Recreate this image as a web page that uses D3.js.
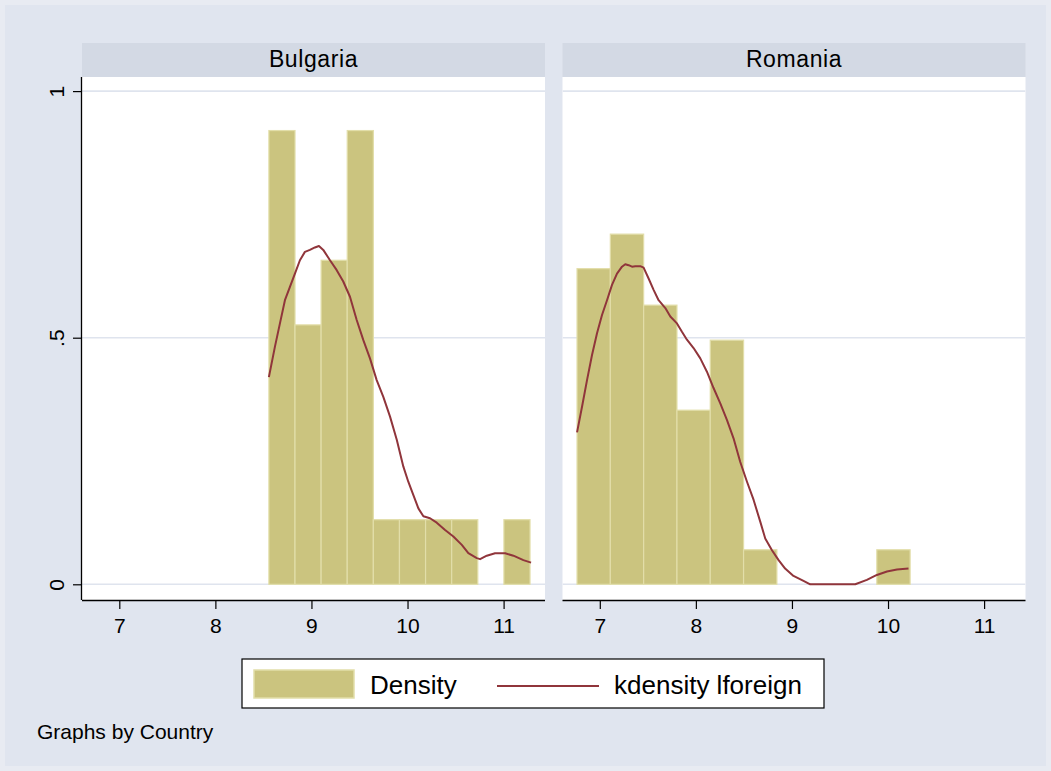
<!DOCTYPE html>
<html>
<head>
<meta charset="utf-8">
<script src="https://cdn.jsdelivr.net/npm/d3@7"></script>
<style>
  html, body { margin: 0; padding: 0; background: #e0e5ef; }
  svg { display: block; }
  text { font-family: "Liberation Sans", Arial, Helvetica, sans-serif; fill: #000; }
</style>
</head>
<body>
<svg id="chart" width="1051" height="771"></svg>
<script>
// Histogram of lforeign by country, with kernel density overlay
const countries = ["Bulgaria", "Romania"];

// Histogram bins: first bin start, bin width, density per bin
const bulgariaBinStart = 8.557;
const bulgariaBinWidth = 0.2718;
const bulgariaDensity = [0.920, 0.526, 0.657, 0.920, 0.131, 0.131, 0.131, 0.131, 0, 0.131];

const romaniaBinStart = 6.763;
const romaniaBinWidth = 0.3467;
const romaniaDensity = [0.640, 0.710, 0.566, 0.353, 0.495, 0.070, 0, 0, 0, 0.070];

// Kernel density estimates [x, density]
const bulgariaKdensity = [
  [8.557, 0.420], [8.620, 0.482], [8.672, 0.529], [8.724, 0.576], [8.776, 0.603],
  [8.828, 0.630], [8.880, 0.657], [8.932, 0.674], [8.984, 0.678], [9.036, 0.683],
  [9.078, 0.686], [9.123, 0.678], [9.193, 0.657], [9.263, 0.637], [9.331, 0.614],
  [9.401, 0.583], [9.471, 0.536], [9.540, 0.495], [9.609, 0.458], [9.679, 0.414],
  [9.748, 0.380], [9.818, 0.340], [9.888, 0.293], [9.956, 0.239], [10.008, 0.208],
  [10.061, 0.181], [10.113, 0.154], [10.165, 0.138], [10.234, 0.134], [10.304, 0.125],
  [10.391, 0.110], [10.477, 0.097], [10.565, 0.080], [10.633, 0.063], [10.721, 0.053],
  [10.755, 0.051], [10.825, 0.058], [10.911, 0.063], [11.016, 0.063], [11.102, 0.058],
  [11.206, 0.049], [11.286, 0.044]
];
const romaniaKdensity = [
  [6.763, 0.308], [6.815, 0.360], [6.867, 0.414], [6.919, 0.465], [6.971, 0.509],
  [7.023, 0.546], [7.075, 0.576], [7.127, 0.607], [7.179, 0.630], [7.231, 0.644],
  [7.265, 0.649], [7.300, 0.647], [7.335, 0.644], [7.369, 0.645], [7.421, 0.645],
  [7.456, 0.642], [7.508, 0.620], [7.560, 0.597], [7.612, 0.576], [7.682, 0.560],
  [7.734, 0.543], [7.803, 0.529], [7.855, 0.512], [7.907, 0.496], [7.976, 0.479],
  [8.046, 0.458], [8.115, 0.431], [8.184, 0.398], [8.254, 0.367], [8.324, 0.333],
  [8.392, 0.296], [8.462, 0.248], [8.532, 0.208], [8.601, 0.171], [8.670, 0.127],
  [8.722, 0.093], [8.792, 0.069], [8.861, 0.049], [8.929, 0.032], [9.016, 0.017],
  [9.120, 0.007], [9.190, 0.000], [9.659, 0.000], [9.780, 0.009], [9.884, 0.019],
  [9.989, 0.026], [10.093, 0.030], [10.213, 0.032]
];

const xTicks = [7, 8, 9, 10, 11];
const yTicks = [0, 0.5, 1];
const yTickLabels = ["0", ".5", "1"];
const legendLabels = ["Density", "kdensity lforeign"];
const note = "Graphs by Country";

const panels = [
  { name: countries[0], start: bulgariaBinStart, width: bulgariaBinWidth, density: bulgariaDensity, kd: bulgariaKdensity },
  { name: countries[1], start: romaniaBinStart, width: romaniaBinWidth, density: romaniaDensity, kd: romaniaKdensity }
];

const colors = {
  bg: "#e0e5ef",
  strip: "#d3d9e4",
  grid: "#dfe4ee",
  bar: "#cbc47f",
  barEdge: "#e2dea9",
  line: "#90353b"
};

const svg = d3.select("#chart");
svg.append("rect").attr("width", 1051).attr("height", 771).attr("fill", "#e8ebf2");
svg.append("rect").attr("x", 5).attr("y", 5).attr("width", 1041).attr("height", 761).attr("fill", colors.bg);

const panelLefts = [82, 562.5];
const panelW = 463;
const stripTop = 43, stripBottom = 77, plotBottom = 600;

panels.forEach((p, i) => {
  const left = panelLefts[i];
  const g = svg.append("g");

  const x = d3.scaleLinear().domain([7, 11]).range([left + 37.3, left + 421.6]);
  const y = d3.scaleLinear().domain([0, 1]).range([584.3, 91.1]);

  // strip header
  g.append("rect").attr("x", left).attr("y", stripTop).attr("width", panelW)
    .attr("height", stripBottom - stripTop).attr("fill", colors.strip);
  g.append("text").attr("x", left + panelW / 2).attr("y", 67)
    .attr("text-anchor", "middle").attr("font-size", 23).attr("letter-spacing", 0.6)
    .text(p.name);

  // plot area
  g.append("rect").attr("x", left).attr("y", stripBottom).attr("width", panelW)
    .attr("height", plotBottom - stripBottom).attr("fill", "#fff");

  const clipId = "clip" + i;
  svg.append("clipPath").attr("id", clipId).append("rect")
    .attr("x", left).attr("y", stripBottom).attr("width", panelW).attr("height", plotBottom - stripBottom);

  const plot = g.append("g").attr("clip-path", `url(#${clipId})`);

  // gridlines
  plot.selectAll("line.grid").data(yTicks).join("line")
    .attr("x1", left).attr("x2", left + panelW)
    .attr("y1", d => y(d)).attr("y2", d => y(d))
    .attr("stroke", colors.grid).attr("stroke-width", 1.6);

  // histogram bars
  const bins = p.density.map((d, k) => ({ x0: p.start + k * p.width, x1: p.start + (k + 1) * p.width, d }))
    .filter(b => b.d > 0);
  plot.selectAll("rect.bar").data(bins).join("rect")
    .attr("x", b => x(b.x0)).attr("width", b => x(b.x1) - x(b.x0))
    .attr("y", b => y(b.d)).attr("height", b => y(0) - y(b.d))
    .attr("fill", colors.bar).attr("stroke", colors.barEdge).attr("stroke-width", 1.2);

  // kernel density
  plot.append("path").datum(p.kd)
    .attr("d", d3.line().x(d => x(d[0])).y(d => y(d[1])))
    .attr("fill", "none").attr("stroke", colors.line).attr("stroke-width", 2)
    .attr("stroke-linejoin", "round");

  // x axis
  const xAxis = d3.axisBottom(x).tickValues(xTicks).tickSize(9).tickPadding(4).tickFormat(d3.format("d"));
  const xg = g.append("g").attr("transform", `translate(0,${plotBottom})`).call(xAxis);
  xg.select(".domain").attr("d", `M${left},0.5H${left + panelW}`).attr("stroke", "#000").attr("stroke-width", 1.3);
  xg.selectAll(".tick line").attr("stroke", "#000").attr("stroke-width", 1.2);
  xg.selectAll(".tick text").attr("font-size", 21).attr("font-family", "Liberation Sans, Arial, sans-serif")
    .attr("fill", "#000").attr("dy", "0.95em");

  // y axis (left panel only)
  if (i === 0) {
    const yAxis = d3.axisLeft(y).tickValues(yTicks).tickSize(9).tickFormat((d, k) => yTickLabels[k]);
    const yg = g.append("g").attr("transform", `translate(${left},0)`).call(yAxis);
    yg.select(".domain").attr("d", `M-0.5,${stripBottom}V${plotBottom}`).attr("stroke", "#000").attr("stroke-width", 1.3);
    yg.selectAll(".tick line").attr("stroke", "#000").attr("stroke-width", 1.2);
    yg.selectAll(".tick text").attr("font-size", 21).attr("font-family", "Liberation Sans, Arial, sans-serif")
      .attr("fill", "#000").attr("text-anchor", "middle").attr("dy", 0)
      .attr("transform", "translate(-18,0) rotate(-90)").attr("x", 0).attr("y", 0);
  }
});

// legend
const lg = svg.append("g");
lg.append("rect").attr("x", 242).attr("y", 659).attr("width", 582).attr("height", 49)
  .attr("fill", "#fff").attr("stroke", "#000").attr("stroke-width", 1.2);
lg.append("rect").attr("x", 254).attr("y", 670).attr("width", 100).attr("height", 28)
  .attr("fill", colors.bar).attr("stroke", colors.barEdge).attr("stroke-width", 1.5);
lg.append("text").attr("x", 370).attr("y", 694).attr("font-size", 26).text(legendLabels[0]);
lg.append("line").attr("x1", 497).attr("x2", 599).attr("y1", 686).attr("y2", 686)
  .attr("stroke", colors.line).attr("stroke-width", 2);
lg.append("text").attr("x", 614).attr("y", 694).attr("font-size", 26).text(legendLabels[1]);

// note
svg.append("text").attr("x", 37).attr("y", 739).attr("font-size", 21).text(note);
</script>
</body>
</html>
